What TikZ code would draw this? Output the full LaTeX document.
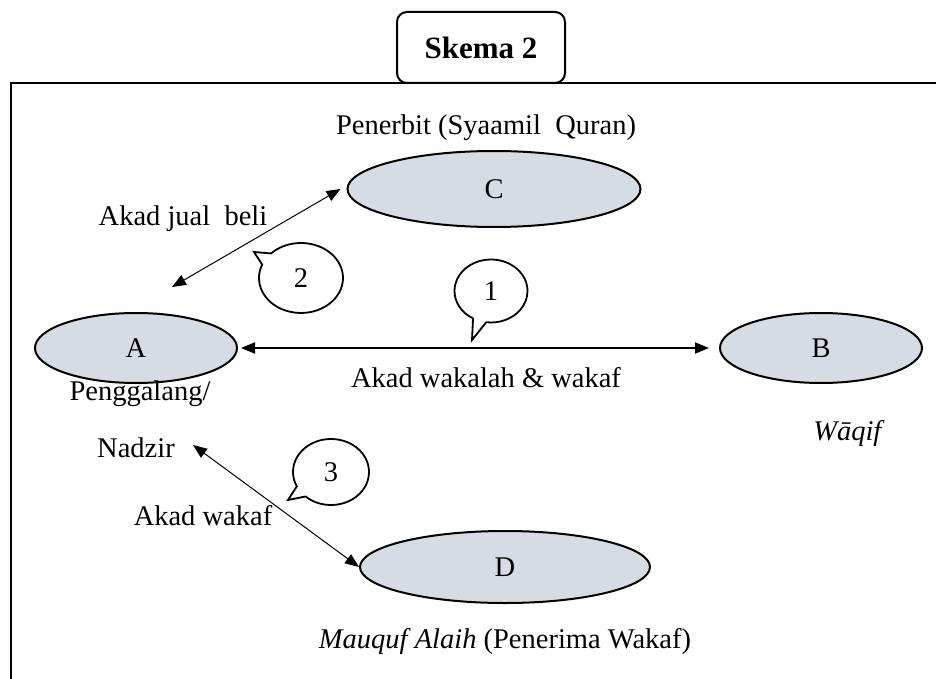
\documentclass[tikz,border=0pt]{standalone}
\usepackage{fontspec}
\setmainfont{Liberation Serif}
\usetikzlibrary{arrows.meta,shapes.geometric,shapes.callouts}

\definecolor{partyfill}{HTML}{D6DCE4}

\tikzset{
	party/.style={ellipse, draw, line width=2pt, fill=partyfill, inner sep=0pt},
	bubble/.style={ellipse callout, draw, line width=1.8pt, fill=white, inner sep=0pt, callout pointer arc=22},
	akad/.style={{Triangle[length=14pt,width=11pt]}-{Triangle[length=14pt,width=11pt]}, line width=1pt}
}

\begin{document}
\begin{tikzpicture}[x=1pt, y=-1pt, every node/.style={font=\fontsize{28.5}{34}\selectfont}]
	\clip (0,0) rectangle (936,679);

	% frame and title
	\draw
		[line width=2.5pt] (11,83) rectangle (960,700);

	\node (title) at (481,47.5) [draw, rounded corners=10pt, line width=2pt, minimum width=168, minimum height=71, font=\bfseries\fontsize{31}{36}\selectfont] {Skema 2};

	% parties
	\node (C) at (494,189) [party, minimum width=293, minimum height=76] {C};
	\node (A) at (136,348) [party, minimum width=202, minimum height=70] {A};
	\node (B) at (821,348) [party, minimum width=202, minimum height=70] {B};
	\node (D) at (505,567) [party, minimum width=290, minimum height=72] {D};

	\node (pub) at (486,135) [anchor=base] {Penerbit (Syaamil\ \ Quran)};
	\node (pg) at (140,400) [anchor=base] {Penggalang/};
	\node (nz) at (136,457) [anchor=base] {Nadzir};
	\node (wq) at (849,440) [anchor=base] {\textit{Wāqif}};
	\node (ma) at (505,648) [anchor=base] {\textit{Mauquf Alaih} (Penerima Wakaf)};

	% akad
	\node (jb) at (183,225) [anchor=base] {Akad jual\ \ beli};
	\node (ww) at (486,387) [anchor=base] {Akad wakalah \& wakaf};
	\node (wk) at (203,525) [anchor=base] {Akad wakaf};

	\coordinate (jb-end) at (172,287);
	\coordinate (nz-end) at (193,445);

	\draw
		[akad] (jb-end) -- ([xshift=-6pt]C.west);

	\draw
		[akad, line width=2pt, shorten <=3pt, shorten >=10pt] (A.east) -- (A.east -| B.west);

	\draw
		[akad] (nz-end) -- (D.west);

	% steps
	\coordinate (tip1) at (472,340);
	\coordinate (tip2) at (254,252);
	\coordinate (tip3) at (288,500);

	\node (n1) at (491,291) [bubble, minimum width=73, minimum height=63, callout absolute pointer={(tip1)}] {1};
	\node (n2) at (301,278) [bubble, minimum width=84, minimum height=70, callout absolute pointer={(tip2)}] {2};
	\node (n3) at (331,472) [bubble, minimum width=76, minimum height=66, callout absolute pointer={(tip3)}] {3};
\end{tikzpicture}
\end{document}
